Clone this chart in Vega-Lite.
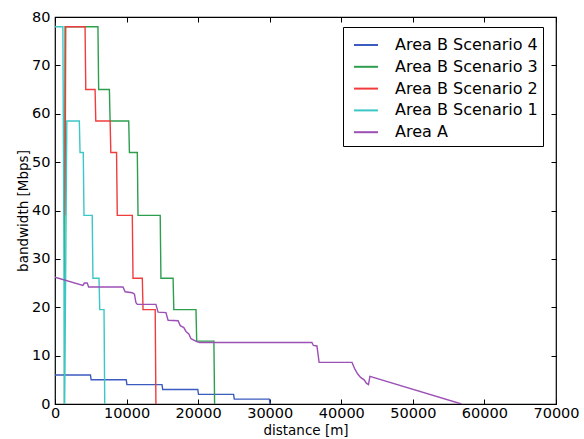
{
  "$schema": "https://vega.github.io/schema/vega-lite/v6.json",
  "width": 501,
  "height": 387,
  "autosize": "none",
  "padding": {"left": 55, "top": 17, "right": 28, "bottom": 35},
  "config": {
    "font": "DejaVu Sans",
    "view": {"stroke": "black", "strokeWidth": 1.2},
    "axis": {"domain": false, "grid": false, "labelFontSize": 14.5, "labelColor": "black", "labelFlush": false, "labelOverlap": false, "titleFontSize": 13.5, "titleFontWeight": "normal", "titleColor": "black", "tickColor": "black", "tickSize": -5, "tickWidth": 1}
  },
  "data": {"values": [
    {"series": "Area B Scenario 4", "i": 1, "x": 0, "y": 6},
    {"series": "Area B Scenario 4", "i": 2, "x": 4950, "y": 6},
    {"series": "Area B Scenario 4", "i": 3, "x": 5050, "y": 5},
    {"series": "Area B Scenario 4", "i": 4, "x": 9950, "y": 5},
    {"series": "Area B Scenario 4", "i": 5, "x": 10050, "y": 4},
    {"series": "Area B Scenario 4", "i": 6, "x": 14950, "y": 4},
    {"series": "Area B Scenario 4", "i": 7, "x": 15050, "y": 3},
    {"series": "Area B Scenario 4", "i": 8, "x": 19950, "y": 3},
    {"series": "Area B Scenario 4", "i": 9, "x": 20050, "y": 2},
    {"series": "Area B Scenario 4", "i": 10, "x": 24950, "y": 2},
    {"series": "Area B Scenario 4", "i": 11, "x": 25050, "y": 1},
    {"series": "Area B Scenario 4", "i": 12, "x": 29950, "y": 1},
    {"series": "Area B Scenario 4", "i": 13, "x": 30050, "y": 0},

    {"series": "Area B Scenario 3", "i": 1, "x": 1300, "y": 0},
    {"series": "Area B Scenario 3", "i": 2, "x": 1400, "y": 78},
    {"series": "Area B Scenario 3", "i": 3, "x": 6000, "y": 78},
    {"series": "Area B Scenario 3", "i": 4, "x": 6100, "y": 65},
    {"series": "Area B Scenario 3", "i": 5, "x": 7600, "y": 65},
    {"series": "Area B Scenario 3", "i": 6, "x": 7700, "y": 58.5},
    {"series": "Area B Scenario 3", "i": 7, "x": 10300, "y": 58.5},
    {"series": "Area B Scenario 3", "i": 8, "x": 10400, "y": 52},
    {"series": "Area B Scenario 3", "i": 9, "x": 11500, "y": 52},
    {"series": "Area B Scenario 3", "i": 10, "x": 11600, "y": 39},
    {"series": "Area B Scenario 3", "i": 11, "x": 14700, "y": 39},
    {"series": "Area B Scenario 3", "i": 12, "x": 14800, "y": 26},
    {"series": "Area B Scenario 3", "i": 13, "x": 16500, "y": 26},
    {"series": "Area B Scenario 3", "i": 14, "x": 16600, "y": 19.5},
    {"series": "Area B Scenario 3", "i": 15, "x": 19700, "y": 19.5},
    {"series": "Area B Scenario 3", "i": 16, "x": 19800, "y": 13},
    {"series": "Area B Scenario 3", "i": 17, "x": 22200, "y": 13},
    {"series": "Area B Scenario 3", "i": 18, "x": 22300, "y": 0},

    {"series": "Area B Scenario 2", "i": 1, "x": 1400, "y": 39},
    {"series": "Area B Scenario 2", "i": 2, "x": 1500, "y": 78},
    {"series": "Area B Scenario 2", "i": 3, "x": 4200, "y": 78},
    {"series": "Area B Scenario 2", "i": 4, "x": 4300, "y": 65},
    {"series": "Area B Scenario 2", "i": 5, "x": 5600, "y": 65},
    {"series": "Area B Scenario 2", "i": 6, "x": 5700, "y": 58.5},
    {"series": "Area B Scenario 2", "i": 7, "x": 7700, "y": 58.5},
    {"series": "Area B Scenario 2", "i": 8, "x": 7800, "y": 52},
    {"series": "Area B Scenario 2", "i": 9, "x": 8600, "y": 52},
    {"series": "Area B Scenario 2", "i": 10, "x": 8700, "y": 39},
    {"series": "Area B Scenario 2", "i": 11, "x": 10800, "y": 39},
    {"series": "Area B Scenario 2", "i": 12, "x": 10900, "y": 26},
    {"series": "Area B Scenario 2", "i": 13, "x": 12200, "y": 26},
    {"series": "Area B Scenario 2", "i": 14, "x": 12300, "y": 19.5},
    {"series": "Area B Scenario 2", "i": 15, "x": 14000, "y": 19.5},
    {"series": "Area B Scenario 2", "i": 16, "x": 14100, "y": 0},

    {"series": "Area B Scenario 1", "i": 1, "x": 0, "y": 78},
    {"series": "Area B Scenario 1", "i": 2, "x": 1100, "y": 78},
    {"series": "Area B Scenario 1", "i": 3, "x": 1350, "y": 0},
    {"series": "Area B Scenario 1", "i": 4, "x": 1650, "y": 58.5},
    {"series": "Area B Scenario 1", "i": 5, "x": 3400, "y": 58.5},
    {"series": "Area B Scenario 1", "i": 6, "x": 3500, "y": 52},
    {"series": "Area B Scenario 1", "i": 7, "x": 3950, "y": 52},
    {"series": "Area B Scenario 1", "i": 8, "x": 4050, "y": 39},
    {"series": "Area B Scenario 1", "i": 9, "x": 5200, "y": 39},
    {"series": "Area B Scenario 1", "i": 10, "x": 5300, "y": 26},
    {"series": "Area B Scenario 1", "i": 11, "x": 6150, "y": 26},
    {"series": "Area B Scenario 1", "i": 12, "x": 6250, "y": 19.5},
    {"series": "Area B Scenario 1", "i": 13, "x": 6850, "y": 19.5},
    {"series": "Area B Scenario 1", "i": 14, "x": 6950, "y": 0},

    {"series": "Area A", "i": 1, "x": 0, "y": 26.2},
    {"series": "Area A", "i": 2, "x": 3900, "y": 24.5},
    {"series": "Area A", "i": 3, "x": 4100, "y": 25},
    {"series": "Area A", "i": 4, "x": 4500, "y": 25},
    {"series": "Area A", "i": 5, "x": 4700, "y": 24.2},
    {"series": "Area A", "i": 6, "x": 9500, "y": 24.2},
    {"series": "Area A", "i": 7, "x": 9800, "y": 23.2},
    {"series": "Area A", "i": 8, "x": 10800, "y": 23},
    {"series": "Area A", "i": 9, "x": 11100, "y": 22.7},
    {"series": "Area A", "i": 10, "x": 11300, "y": 21},
    {"series": "Area A", "i": 11, "x": 11500, "y": 20.6},
    {"series": "Area A", "i": 12, "x": 14100, "y": 20.6},
    {"series": "Area A", "i": 13, "x": 14400, "y": 19},
    {"series": "Area A", "i": 14, "x": 15500, "y": 18.9},
    {"series": "Area A", "i": 15, "x": 15800, "y": 17.3},
    {"series": "Area A", "i": 16, "x": 17200, "y": 17.2},
    {"series": "Area A", "i": 17, "x": 17500, "y": 16.2},
    {"series": "Area A", "i": 18, "x": 18000, "y": 15.8},
    {"series": "Area A", "i": 19, "x": 18300, "y": 15},
    {"series": "Area A", "i": 20, "x": 18700, "y": 14.5},
    {"series": "Area A", "i": 21, "x": 19000, "y": 13.5},
    {"series": "Area A", "i": 22, "x": 19800, "y": 12.9},
    {"series": "Area A", "i": 23, "x": 20200, "y": 12.7},
    {"series": "Area A", "i": 24, "x": 35900, "y": 12.7},
    {"series": "Area A", "i": 25, "x": 36100, "y": 12.1},
    {"series": "Area A", "i": 26, "x": 36600, "y": 12.0},
    {"series": "Area A", "i": 27, "x": 36900, "y": 8.6},
    {"series": "Area A", "i": 28, "x": 41500, "y": 8.6},
    {"series": "Area A", "i": 29, "x": 41900, "y": 7.2},
    {"series": "Area A", "i": 30, "x": 42300, "y": 6.2},
    {"series": "Area A", "i": 31, "x": 42700, "y": 5.5},
    {"series": "Area A", "i": 32, "x": 43200, "y": 5.0},
    {"series": "Area A", "i": 33, "x": 43500, "y": 4.3},
    {"series": "Area A", "i": 34, "x": 43800, "y": 4.0},
    {"series": "Area A", "i": 35, "x": 44000, "y": 5.7},
    {"series": "Area A", "i": 36, "x": 56800, "y": 0}
  ]},
  "layer": [
    {
      "mark": {"type": "line", "strokeWidth": 1.4, "clip": true},
      "encoding": {
        "x": {"field": "x", "type": "quantitative", "scale": {"domain": [0, 70000], "nice": false, "zero": false},
              "axis": {"orient": "bottom", "values": [0, 10000, 20000, 30000, 40000, 50000, 60000, 70000], "format": "d", "title": "distance [m]", "labelPadding": 7.5, "titlePadding": 3}},
        "y": {"field": "y", "type": "quantitative", "scale": {"domain": [0, 80], "nice": false},
              "axis": {"orient": "left", "values": [0, 10, 20, 30, 40, 50, 60, 70, 80], "title": "bandwidth [Mbps]", "labelPadding": 10, "titlePadding": 1}},
        "color": {"field": "series", "type": "nominal",
                  "scale": {"domain": ["Area B Scenario 4", "Area B Scenario 3", "Area B Scenario 2", "Area B Scenario 1", "Area A"],
                            "range": ["#3b5bc0", "#2e9e4e", "#f03c3c", "#3cc6c6", "#9c4fb4"]},
                  "legend": {"orient": "none", "legendX": 288, "legendY": 10, "title": null, "strokeColor": "black", "fillColor": "white", "padding": 5, "symbolOffset": 5, "cornerRadius": 0,
                             "symbolType": "stroke", "symbolSize": 576, "symbolStrokeWidth": 2, "labelFontSize": 16, "labelColor": "black", "labelOffset": 16, "rowPadding": 0.8, "labelLimit": 300}},
        "order": {"field": "i", "type": "quantitative"}
      }
    },
    {
      "mark": {"type": "line", "opacity": 0},
      "encoding": {
        "x": {"field": "x", "type": "quantitative", "axis": {"orient": "top", "values": [0, 10000, 20000, 30000, 40000, 50000, 60000, 70000], "labels": false, "title": null}},
        "y": {"field": "y", "type": "quantitative", "axis": {"orient": "right", "values": [0, 10, 20, 30, 40, 50, 60, 70, 80], "labels": false, "title": null}}
      }
    }
  ],
  "resolve": {"axis": {"x": "independent", "y": "independent"}}
}
